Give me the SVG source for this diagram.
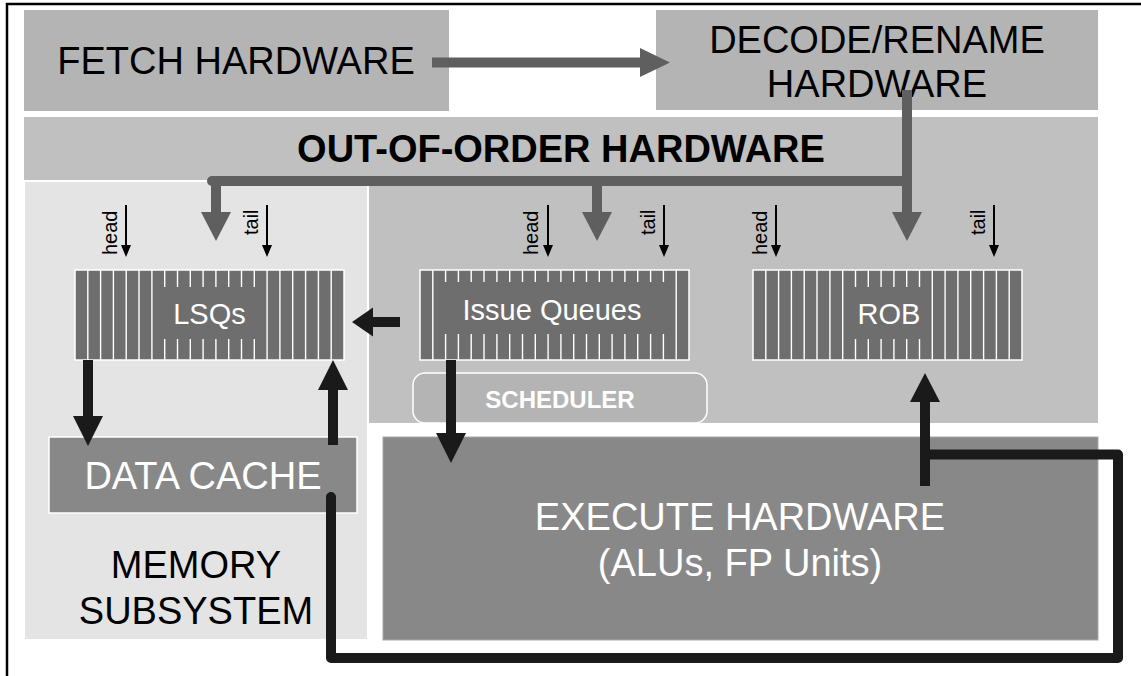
<svg xmlns="http://www.w3.org/2000/svg" width="1141" height="676" viewBox="0 0 1141 676">
<style>
  text { font-family: "Liberation Sans", Arial, sans-serif; }
  .big { font-size: 38px; }
  .dark { fill: #000; }
  .light { fill: #fff; }
  .lbl { font-size: 29px; fill: #fff; text-anchor: middle; }
  .ht { font-size: 20px; fill: #000; }
  .q { fill: #6e6e6e; stroke: #fff; stroke-width: 1.5; }
  .stripe { stroke: #fff; stroke-width: 1.4; fill: none; }
  .qlab { fill: #6e6e6e; }
  .gline { stroke: #5f5f5f; stroke-width: 10; fill: none; }
  .garr { fill: #5f5f5f; }
  .bline { stroke: #1a1a1a; stroke-width: 10; fill: none; }
  .barr { fill: #1a1a1a; }
  .thin { stroke: #000; stroke-width: 2; }
</style>
<rect width="1141" height="676" fill="#fff"/>
<rect x="7" y="4" width="1160" height="710" fill="none" stroke="#000" stroke-width="2.5"/>

<g id="fetch">
  <rect x="24" y="10" width="425" height="101" fill="#b4b4b4"/>
  <text class="big dark" x="236" y="74" text-anchor="middle">FETCH HARDWARE</text>
</g>
<g id="decode">
  <rect x="656" y="10" width="442" height="100" fill="#b4b4b4"/>
  <text class="big dark" x="877" y="53" text-anchor="middle">DECODE/RENAME</text>
  <text class="big dark" x="877" y="97" text-anchor="middle">HARDWARE</text>
</g>
<g id="ooo">
  <rect x="24" y="117" width="1074" height="306" fill="#c0c0c0"/>
  <text x="561" y="162" text-anchor="middle" font-size="38" font-weight="bold" fill="#000">OUT-OF-ORDER HARDWARE</text>
</g>
<g id="memory">
  <rect x="24" y="181" width="344" height="459" fill="#e4e4e4" stroke="#fff" stroke-width="2"/>
  <text class="big dark" x="196" y="578" text-anchor="middle">MEMORY</text>
  <text class="big dark" x="196" y="624" text-anchor="middle">SUBSYSTEM</text>
</g>
<g id="execute">
  <rect x="383" y="437" width="715" height="203" fill="#888888" stroke="#a8a8a8" stroke-width="1"/>
  <text class="big light" x="740" y="530" text-anchor="middle">EXECUTE HARDWARE</text>
  <text class="big light" x="740" y="576" text-anchor="middle">(ALUs, FP Units)</text>
</g>
<g id="datacache">
  <rect x="49" y="437" width="308" height="76" fill="#888888" stroke="#fff" stroke-width="1.5"/>
  <text class="big light" x="203" y="489" text-anchor="middle">DATA CACHE</text>
</g>
<g id="scheduler">
  <rect x="413" y="373" width="294" height="50" rx="12" fill="#b4b4b4" stroke="#fff" stroke-width="1.5"/>
  <text x="560" y="408" text-anchor="middle" font-size="24" font-weight="bold" fill="#fff">SCHEDULER</text>
</g>

<g id="lsq">
  <rect class="q" x="75" y="270" width="269" height="90"/>
  <path class="stripe" d="M87.8 270V360M100.6 270V360M113.4 270V360M126.2 270V360M139 270V360M151.9 270V360M164.7 270V360M177.5 270V360M190.3 270V360M203.1 270V360M215.9 270V360M228.7 270V360M241.5 270V360M254.3 270V360M267.1 270V360M279.9 270V360M292.7 270V360M305.6 270V360M318.4 270V360M331.2 270V360"/>
  <rect class="qlab" x="153" y="287" width="113" height="52"/>
  <text class="lbl" x="209.5" y="324">LSQs</text>
  <text class="ht" transform="translate(117,255) rotate(-90)">head</text>
  <text class="ht" transform="translate(258,235) rotate(-90)">tail</text>
  <line class="thin" x1="126" y1="205" x2="126" y2="246"/>
  <polygon points="121,245 131,245 126,257" fill="#000"/>
  <line class="thin" x1="267" y1="205" x2="267" y2="246"/>
  <polygon points="262,245 272,245 267,257" fill="#000"/>
</g>

<g id="issue">
  <rect class="q" x="420" y="270" width="269" height="90"/>
  <path class="stripe" d="M432.8 270V360M445.6 270V360M458.4 270V360M471.2 270V360M484 270V360M496.9 270V360M509.7 270V360M522.5 270V360M535.3 270V360M548.1 270V360M560.9 270V360M573.7 270V360M586.5 270V360M599.3 270V360M612.1 270V360M624.9 270V360M637.7 270V360M650.6 270V360M663.4 270V360M676.2 270V360"/>
  <rect class="qlab" x="434" y="282" width="241" height="52"/>
  <text class="lbl" x="552" y="320">Issue Queues</text>
  <text class="ht" transform="translate(538,255) rotate(-90)">head</text>
  <text class="ht" transform="translate(655,235) rotate(-90)">tail</text>
  <line class="thin" x1="548" y1="205" x2="548" y2="246"/>
  <polygon points="543,245 553,245 548,257" fill="#000"/>
  <line class="thin" x1="664" y1="205" x2="664" y2="246"/>
  <polygon points="659,245 669,245 664,257" fill="#000"/>
</g>

<g id="rob">
  <rect class="q" x="753" y="270" width="269" height="90"/>
  <path class="stripe" d="M765.8 270V360M778.6 270V360M791.4 270V360M804.2 270V360M817 270V360M829.9 270V360M842.7 270V360M855.5 270V360M868.3 270V360M881.1 270V360M893.9 270V360M906.7 270V360M919.5 270V360M932.3 270V360M945.1 270V360M957.9 270V360M970.7 270V360M983.6 270V360M996.4 270V360M1009.2 270V360"/>
  <rect class="qlab" x="844" y="287" width="87" height="52"/>
  <text class="lbl" x="889" y="324">ROB</text>
  <text class="ht" transform="translate(767,255) rotate(-90)">head</text>
  <text class="ht" transform="translate(985,235) rotate(-90)">tail</text>
  <line class="thin" x1="776" y1="205" x2="776" y2="246"/>
  <polygon points="771,245 781,245 776,257" fill="#000"/>
  <line class="thin" x1="994" y1="205" x2="994" y2="246"/>
  <polygon points="989,245 999,245 994,257" fill="#000"/>
</g>

<g id="connectors">
  <!-- fetch -> decode -->
  <line class="gline" x1="432" y1="62.5" x2="641" y2="62.5"/>
  <polygon class="garr" points="640,48 670,62.5 640,77"/>
  <!-- decode -> dispatch bus -->
  <path class="gline" d="M907 90V213"/>
  <path class="gline" d="M212 181H907" stroke-linecap="round" stroke-width="9"/>
  <path class="gline" d="M216 181V213"/>
  <polygon class="garr" points="201,212 231,212 216,241"/>
  <path class="gline" d="M597 181V213"/>
  <polygon class="garr" points="582,212 612,212 597,241"/>
  <polygon class="garr" points="892,212 922,212 907,241"/>
  <!-- LSQ -> data cache -->
  <path class="bline" d="M88 360V417"/>
  <polygon class="barr" points="73,416 103,416 88,446"/>
  <!-- data cache -> LSQ -->
  <path class="bline" d="M333 445V389"/>
  <polygon class="barr" points="318,390 348,390 333,360"/>
  <!-- issue -> LSQ -->
  <path class="bline" d="M400 322H372"/>
  <polygon class="barr" points="373,307.5 373,336.5 352,322"/>
  <!-- issue -> execute -->
  <path class="bline" d="M451 360V434"/>
  <polygon class="barr" points="436,433 466,433 451,463"/>
  <!-- execute -> ROB -->
  <path class="bline" d="M925 486V401"/>
  <polygon class="barr" points="910,402 940,402 925,373"/>
  <!-- writeback loop -->
  <path class="bline" d="M925 454.5H1118V658H331V497" stroke-width="9" stroke-linejoin="round" stroke-linecap="round"/>
</g>
</svg>
